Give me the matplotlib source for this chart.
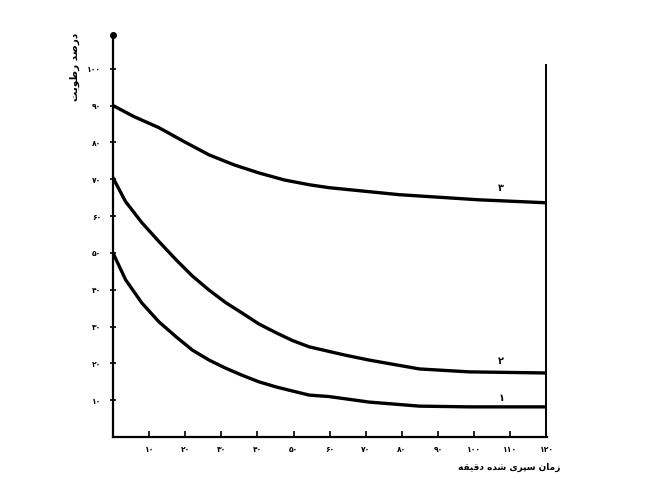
import matplotlib
matplotlib.use("Agg")
import matplotlib.pyplot as plt

plt.rcParams['font.family'] = ['DejaVu Sans']

# time (minutes) and the three curves
x3 = [0, 5.8, 12.7, 19.7, 26.6, 33.5, 40.4, 47.4, 54.3, 59.8, 79.2, 101.4, 120]
y3 = [90, 87.0, 84.0, 80.2, 76.6, 73.9, 71.7, 69.8, 68.5, 67.7, 65.8, 64.4, 63.6]

x2 = [0, 3.5, 8.0, 12.7, 17.5, 22.0, 26.6, 31.2, 35.7, 40.4, 45.2, 49.7, 54.3,
      64, 70.9, 84.8, 98.6, 120]
y2 = [70.4, 63.9, 58.2, 53.1, 48.1, 43.7, 39.9, 36.5, 33.7, 30.7, 28.3, 26.2, 24.5,
      22.3, 20.9, 18.5, 17.7, 17.4]

x1 = [0, 3.5, 8.0, 12.7, 17.5, 22.0, 26.6, 31.2, 35.7, 40.4, 45.2, 49.7, 54.3,
      59.8, 70.9, 84.8, 98.6, 120]
y1 = [50.0, 42.7, 36.4, 31.3, 27.2, 23.6, 20.9, 18.7, 16.8, 15.0, 13.6, 12.5, 11.4,
      11.0, 9.5, 8.4, 8.2, 8.2]

xticks = [10, 20, 30, 40, 50, 60, 70, 80, 90, 100, 110, 120]
yticks = [10, 20, 30, 40, 50, 60, 70, 80, 90, 100]

curve_names = ['\u06f1', '\u06f2', '\u06f3']   # ۱ ۲ ۳
# Persian labels written in visual (left to right) order with presentation forms
xlabel = ('\ufeea\ufed8\ufbff\ufed7\ufea9 '
          '\ufee9\ufeaa\ufeb7 \ufbfc\ufeae\ufb59\ufeb3 \ufee5\ufe8e\ufee3\ufeaf')  # زمان سپری شده دقیقه
ylabel = '\ufe96\ufe91\ufeee\ufec3\ufead \ufeaa\ufebb\ufead\ufea9'  # درصد رطوبت

def fa(n):
    return str(n).translate(str.maketrans('0123456789', '\u06f0\u06f1\u06f2\u06f3\u06f4\u06f5\u06f6\u06f7\u06f8\u06f9'))

fig = plt.figure(figsize=(6.53, 4.9), dpi=100)
ax = fig.add_axes([0.173, 0.108, 0.665, 0.821])

for xs, ys in [(x1, y1), (x2, y2), (x3, y3)]:
    ax.plot(xs, ys, color='black', lw=2.4, solid_joinstyle='round')

ax.set_xlim(0, 120.2)
ax.set_ylim(0, 109.2)
ax.spines['top'].set_visible(False)
ax.spines['right'].set_visible(False)
ax.spines['left'].set_linewidth(1.6)
ax.spines['bottom'].set_linewidth(1.6)

# right border line
ax.plot([120, 120], [0, 101], color='black', lw=1.4, clip_on=False)
# dot at top of y axis
ax.plot([0], [109.2], 'o', color='black', ms=4, clip_on=False)

ax.set_xticks(xticks)
ax.set_xticklabels([fa(v) for v in xticks], fontsize=5.5, fontweight='bold')
ax.set_yticks(yticks)
ax.set_yticklabels([fa(v) for v in yticks], fontsize=5.5, fontweight='bold')
ax.tick_params(axis='x', direction='in', length=4, width=1.2, pad=6)
ax.tick_params(axis='y', direction='inout', length=5, width=1.2, pad=6)

# curve numbers
ax.text(107.5, 10.6, curve_names[0], fontsize=7, fontweight='bold', ha='center', va='center')
ax.text(107.5, 20.7, curve_names[1], fontsize=7, fontweight='bold', ha='center', va='center')
ax.text(107.5, 67.7, curve_names[2], fontsize=7, fontweight='bold', ha='center', va='center')

ax.text(1.03, -0.075, xlabel, transform=ax.transAxes, fontsize=6.5,
        fontweight='bold', ha='right', va='center')
ax.text(-0.088, 0.92, ylabel, transform=ax.transAxes, fontsize=7.5,
        fontweight='bold', ha='center', va='center', rotation=90)

fig.savefig('out.png', dpi=100)
